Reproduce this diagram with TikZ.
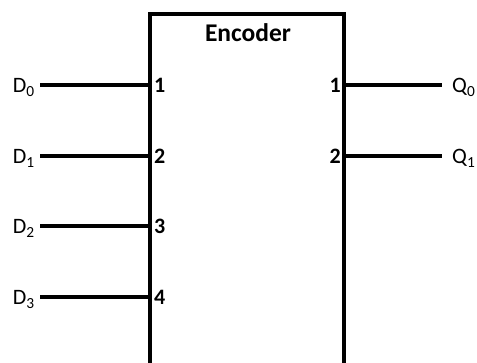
\documentclass[tikz,border=0pt]{standalone}
\usepackage{fontspec}
\setmainfont{Carlito}
\begin{document}
\begin{tikzpicture}[x=1pt,y=-1pt,
  wire/.style={line width=4pt},
  boxline/.style={line width=4pt, line join=miter},
  sig/.style={font=\fontsize{22}{26}\selectfont, inner sep=0pt},
  pinno/.style={font=\fontsize{22}{26}\selectfont\bfseries, inner sep=0pt},
  title/.style={font=\fontsize{25.5}{30}\selectfont\bfseries, inner sep=0pt}]
\useasboundingbox (0,0) rectangle (477,363);
% box (open at the bottom)
\coordinate (bl) at (150,370);
\coordinate (tl) at (150,14);
\coordinate (tr) at (344,14);
\coordinate (br) at (344,370);
\draw[boxline] (bl) -- (tl) -- (tr) -- (br);
\node[title, anchor=base] (enc) at (248,42) {Encoder};
% input pins
\foreach \i/\y/\n in {0/85/1, 1/156/2, 2/226/3, 3/297/4}{
  \coordinate (in\i) at (150,\y);
  \node[pinno, anchor=base west] (pin\i) at (154,\y+8) {\n};
  \node[sig, anchor=base east] (D\i) at (35,\y+8) {D\textsubscript{\i}};
  \coordinate (ds\i) at (40,\y);
  \draw[wire] (ds\i) -- (in\i);
}
% output pins
\foreach \i/\y/\n in {0/85/1, 1/156/2}{
  \coordinate (out\i) at (344,\y);
  \node[pinno, anchor=base east] (opin\i) at (341,\y+8) {\n};
  \node[sig, anchor=base west] (Q\i) at (452,\y+8) {Q\textsubscript{\i}};
  \coordinate (qs\i) at (442,\y);
  \draw[wire] (out\i) -- (qs\i);
}
\end{tikzpicture}
\end{document}
